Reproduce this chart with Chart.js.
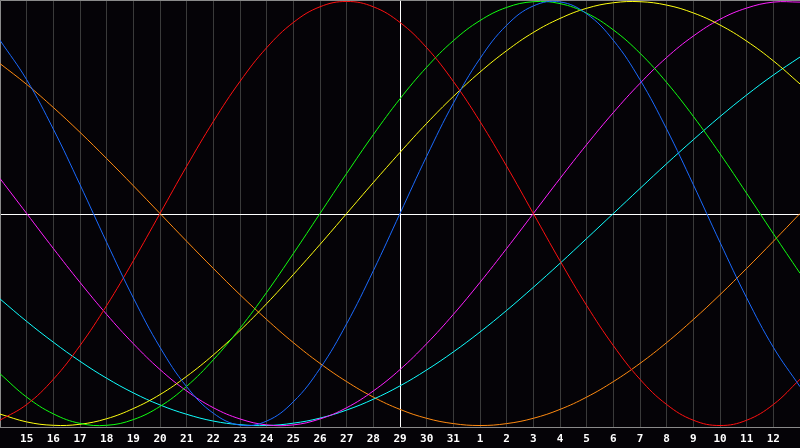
<!DOCTYPE html>
<html>
<head>
<meta charset="utf-8">
<script src="https://cdn.jsdelivr.net/npm/chart.js@4/dist/chart.umd.min.js"></script>
<style>
  html, body { margin: 0; padding: 0; background: #050307; }
  canvas { display: block; }
</style>
</head>
<body>
<canvas id="bio" width="800" height="448"></canvas>
<script>
// days shown on the bottom axis (first and last ones sit on the edges)
const days = [14,15,16,17,18,19,20,21,22,23,24,25,26,27,28,29,30,31,1,2,3,4,5,6,7,8,9,10,11,12,13]
const today = 15 // index of day 29

// curves, one value per day, -1..1
const blue = [0.817,0.631,0.398,0.136,-0.136,-0.398,-0.631,-0.817,-0.942,-0.998,-0.979,-0.888,-0.731,-0.520,-0.270,0,0.270,0.520,0.731,0.888,0.979,0.998,0.942,0.817,0.631,0.398,0.136,-0.136,-0.398,-0.631,-0.817]
const red = [-0.975,-0.901,-0.782,-0.623,-0.434,-0.223,0,0.223,0.434,0.623,0.782,0.901,0.975,1,0.975,0.901,0.782,0.623,0.434,0.223,0,-0.223,-0.434,-0.623,-0.782,-0.901,-0.975,-1,-0.975,-0.901,-0.782]
const green = [-0.756,-0.866,-0.945,-0.990,-0.999,-0.972,-0.910,-0.815,-0.690,-0.541,-0.372,-0.189,0,0.189,0.372,0.541,0.690,0.815,0.910,0.972,0.999,0.990,0.945,0.866,0.756,0.618,0.458,0.282,0.095,-0.095,-0.282]
const magenta = [0.165,0,-0.165,-0.325,-0.476,-0.614,-0.736,-0.837,-0.916,-0.969,-0.997,-0.997,-0.969,-0.916,-0.837,-0.736,-0.614,-0.476,-0.325,-0.165,0,0.165,0.325,0.476,0.614,0.736,0.837,0.916,0.969,0.997,0.997]
const yellow = [-0.946,-0.983,-0.999,-0.994,-0.968,-0.920,-0.854,-0.768,-0.667,-0.552,-0.425,-0.288,-0.146,0,0.146,0.288,0.425,0.552,0.667,0.768,0.854,0.920,0.968,0.994,0.999,0.983,0.946,0.889,0.813,0.720,0.611]
const orange = [0.707,0.609,0.5,0.383,0.259,0.131,0,-0.131,-0.259,-0.383,-0.5,-0.609,-0.707,-0.793,-0.866,-0.924,-0.966,-0.991,-1,-0.991,-0.966,-0.924,-0.866,-0.793,-0.707,-0.609,-0.5,-0.383,-0.259,-0.131,0]
const cyan = [-0.403,-0.509,-0.607,-0.697,-0.777,-0.846,-0.903,-0.947,-0.979,-0.996,-1,-0.989,-0.965,-0.927,-0.876,-0.813,-0.738,-0.653,-0.559,-0.457,-0.348,-0.235,-0.118,0,0.118,0.235,0.348,0.457,0.559,0.653,0.738]

function curve(data, color){
  return { data: data, borderColor: color, borderWidth: 1, pointRadius: 0, tension: 0.4, fill: false }
}

// frame, today line and zero line
const marks = {
  id: 'marks',
  beforeDraw(chart){
    let c = chart.ctx
    c.save()
    c.fillStyle = '#050307'
    c.fillRect(0, 0, chart.width, chart.height)
    c.restore()
  },
  beforeDatasetsDraw(chart){
    let c = chart.ctx
    let a = chart.chartArea
    let x = Math.round(chart.scales.x.getPixelForValue(today)) + 0.5
    let y = Math.round(chart.scales.y.getPixelForValue(0)) + 0.5
    c.save()
    c.lineWidth = 1
    c.strokeStyle = '#ffffff'
    c.beginPath()
    c.moveTo(a.left, y); c.lineTo(a.right, y)
    c.moveTo(x, a.top); c.lineTo(x, a.bottom)
    c.stroke()
    c.strokeStyle = '#8a8a8a'
    c.beginPath()
    c.moveTo(0.5, a.bottom); c.lineTo(0.5, 0.5); c.lineTo(a.right, 0.5)
    c.stroke()
    c.restore()
  }
}

const bio = new Chart(document.getElementById('bio'), {
  type: 'line',
  data: {
    labels: days,
    datasets: [
      curve(blue, '#1a6aff'),
      curve(red, '#ff1010'),
      curve(green, '#10ff10'),
      curve(yellow, '#ffff10'),
      curve(magenta, '#ff20ff'),
      curve(cyan, '#10ffff'),
      curve(orange, '#ff8a10')
    ]
  },
  options: {
    responsive: false,
    animation: false,
    devicePixelRatio: 1,
    layout: { padding: 0, autoPadding: false },
    plugins: { legend: { display: false }, tooltip: { enabled: false } },
    scales: {
      x: {
        grid: { color: '#3a3a3a', lineWidth: 1, drawTicks: false },
        border: { display: true, color: '#8a8a8a' },
        ticks: {
          color: '#ffffff',
          font: { family: 'DejaVu Sans Mono', weight: 'bold', size: 11 },
          padding: 6,
          maxRotation: 0,
          autoSkip: false,
          callback: function(v, i){ return (i == 0 || i == days.length - 1) ? '' : days[i] }
        },
        afterFit: function(s){ // keep the plot flush with the edges
          s.height = 21
          s.paddingLeft = 0
          s.paddingRight = 0
        }
      },
      y: { display: false, min: -1.007, max: 1.007 }
    }
  },
  plugins: [marks]
})
</script>
</body>
</html>
